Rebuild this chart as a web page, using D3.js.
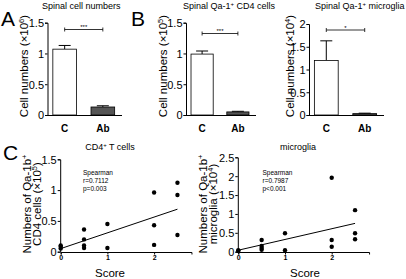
<!DOCTYPE html>
<html>
<head>
<meta charset="utf-8">
<script src="https://cdn.jsdelivr.net/npm/d3@7"></script>
<style>
  body { margin: 0; background: #fff; }
  svg { display: block; font-family: 'Liberation Sans', Arial, sans-serif; }
</style>
</head>
<body>
<div id="chart"></div>
<script>
// bar data (C = control, Ab = antibody)
const barCategories = [ 'C', 'Ab' ];
const cellMeans = [ 1.07, 0.13 ];
const cellErrs = [ 0.06, 0.02 ];
const cd4Means = [ 0.99, 0.05 ];
const cd4Errs = [ 0.05, 0.01 ];
const mgMeans = [ 1.2, 0.03 ];
const mgErrs = [ 0.43, 0.01 ];

// scatter data: score vs count
const cd4Score = [ 0, 0, 0, 0.5, 0.5, 0.5, 0.5, 1, 1, 2, 2, 2, 2.5, 2.5, 2.5 ];
const cd4Count = [ 0.05, 0.08, 0.1, 0.36, 0.2, 0.1, 0.06, 0.45, 0.06, 0.96, 0.43, 0.11, 1.12, 0.92, 0.27 ];
const mgScore = [ 0, 0, 0.5, 0.5, 0.5, 0.5, 1, 1, 2, 2, 2, 2.5, 2.5, 2.5 ];
const mgCount = [ 0.04, 0.02, 0.31, 0.15, 0.1, 0.05, 0.49, 0.04, 1.96, 0.31, 0.13, 1.1, 0.49, 0.33 ];
const fitX = [ 0, 2.5 ];
const cd4Fit = [ 0.05, 0.69 ];
const mgFit = [ 0.04, 0.75 ];

const scoreTicks = [ 0, 1, 2 ];

const svg = d3.select( '#chart' ).append( 'svg' )
  .attr( 'width', 406 )
  .attr( 'height', 279 );

const tickFont = 'font-size:11px;';
const labelFont = 'font-size:11.5px;';

function yAxis( g, y, ticks ) {
  g.call( d3.axisLeft( y ).tickValues( ticks ).tickSize( 2.5 ).tickPadding( 1 )
    .tickFormat( d3.format( '~g' ) ) );
  g.attr( 'font-family', null ).attr( 'font-size', null );
  g.selectAll( 'text' ).attr( 'style', tickFont ).attr( 'dy', '0.35em' );
}

// rotated axis title with a superscript part
function rotLabel( g, x, y, parts ) {
  const t = g.append( 'text' ).attr( 'transform', 'translate(' + x + ',' + y + ') rotate(-90)' )
    .attr( 'text-anchor', 'middle' ).attr( 'style', labelFont );
  parts.forEach( function( p ) {
    t.append( 'tspan' ).attr( 'dy', p.sup ? -4 : ( p.down ? 4 : 0 ) )
      .attr( 'style', p.sup ? 'font-size:7.5px;' : null ).text( p.t );
  });
}

function titleText( g, x, y, anchor, parts ) {
  const t = g.append( 'text' ).attr( 'x', x ).attr( 'y', y )
    .attr( 'text-anchor', anchor ).attr( 'style', 'font-size:9px;' );
  parts.forEach( function( p ) {
    t.append( 'tspan' ).attr( 'dy', p.sup ? -3 : ( p.down ? 3 : 0 ) )
      .attr( 'style', p.sup ? 'font-size:6px;' : null ).text( p.t );
  });
}

function barPanel( opt ) {
  const y = d3.scaleLinear().domain( [ 0, opt.ymax ] ).range( [ 115, opt.ytop ] );
  const x = d3.scaleBand().domain( barCategories ).range( [ opt.x0, opt.x1 ] )
    .paddingInner( 0.38 ).paddingOuter( 0.14 );
  const g = svg.append( 'g' );

  // error bars first, bars drawn on top
  barCategories.forEach( function( c, i ) {
    const cx = x( c ) + x.bandwidth() / 2;
    const top = y( opt.means[ i ] + opt.errs[ i ] );
    g.append( 'line' ).attr( 'x1', cx ).attr( 'x2', cx )
      .attr( 'y1', y( opt.means[ i ] ) ).attr( 'y2', top ).attr( 'stroke', '#000' );
    g.append( 'line' ).attr( 'x1', cx - 6 ).attr( 'x2', cx + 6 )
      .attr( 'y1', top ).attr( 'y2', top ).attr( 'stroke', '#000' );
  });

  g.selectAll( 'rect.bar' ).data( barCategories ).enter().append( 'rect' )
    .attr( 'x', function( d ) { return x( d ); } )
    .attr( 'y', function( d, i ) { return y( opt.means[ i ] ); } )
    .attr( 'width', x.bandwidth() )
    .attr( 'height', function( d, i ) { return 115 - y( opt.means[ i ] ); } )
    .attr( 'fill', function( d, i ) { return i == 0 ? '#fff' : '#555'; } )
    .attr( 'stroke', '#000' ).attr( 'stroke-width', 0.8 );

  // axes
  g.append( 'line' ).attr( 'x1', opt.x0 ).attr( 'x2', opt.x1 + 2 )
    .attr( 'y1', 115.5 ).attr( 'y2', 115.5 ).attr( 'stroke', '#000' );
  g.append( 'g' ).attr( 'transform', 'translate(' + opt.x0 + ',0)' )
    .call( function( a ) { yAxis( a, y, opt.ticks ); } );

  g.selectAll( 'text.cat' ).data( barCategories ).enter().append( 'text' )
    .attr( 'x', function( d ) { return x( d ) + x.bandwidth() / 2; } )
    .attr( 'y', 132 )
    .attr( 'text-anchor', 'middle' )
    .attr( 'style', 'font-size:10px; font-weight:bold;' )
    .text( function( d ) { return d; } );

  // significance bracket
  const bx1 = x( 'C' ) + x.bandwidth() / 2, bx2 = x( 'Ab' ) + x.bandwidth() / 2;
  g.append( 'path' )
    .attr( 'd', 'M' + bx1 + ',' + ( opt.by - 2 ) + 'V' + ( opt.by + 2 ) + 'M' + bx1 + ',' + opt.by +
      'H' + bx2 + 'M' + bx2 + ',' + ( opt.by - 2 ) + 'V' + ( opt.by + 2 ) )
    .attr( 'stroke', '#000' ).attr( 'fill', 'none' ).attr( 'stroke-width', 0.8 );
  g.append( 'text' ).attr( 'x', ( bx1 + bx2 ) / 2 ).attr( 'y', opt.by - 0.5 )
    .attr( 'text-anchor', 'middle' ).attr( 'style', 'font-size:6px;' ).text( opt.stars );

  titleText( g, opt.tx, 9, 'start', opt.title );

  rotLabel( g, opt.lx, 66, [ { t: 'Cell numbers (\u00d710' }, { t: opt.exp, sup: true }, { t: ')', down: true } ] );
}

function scatterPanel( opt ) {
  const x = d3.scaleLinear().domain( [ 0, 2.8 ] ).range( [ opt.x0, opt.x0 + 2.8 * 46.7 ] );
  const y = d3.scaleLinear().domain( [ 0, opt.ymax ] ).range( [ 251.7, opt.ytop ] );
  const g = svg.append( 'g' );

  const xa = g.append( 'g' ).attr( 'transform', 'translate(0,252)' )
    .call( d3.axisBottom( x ).tickValues( scoreTicks ).tickSize( 2.5 ).tickPadding( 1 )
      .tickFormat( d3.format( 'd' ) ) );
  xa.attr( 'font-family', null ).attr( 'font-size', null );
  xa.selectAll( 'text' ).attr( 'style', 'font-size:7px; font-weight:bold;' );

  g.append( 'g' ).attr( 'transform', 'translate(' + ( opt.x0 - 0.5 ) + ',0)' )
    .call( function( a ) { yAxis( a, y, opt.ticks ); } );

  g.selectAll( 'circle' ).data( opt.xs ).enter().append( 'circle' )
    .attr( 'cx', function( d ) { return x( d ); } )
    .attr( 'cy', function( d, i ) { return y( opt.ys[ i ] ); } )
    .attr( 'r', 2.2 ).attr( 'fill', '#000' );

  g.append( 'line' )
    .attr( 'x1', x( fitX[ 0 ] ) ).attr( 'y1', y( opt.fit[ 0 ] ) )
    .attr( 'x2', x( fitX[ 1 ] ) ).attr( 'y2', y( opt.fit[ 1 ] ) )
    .attr( 'stroke', '#000' ).attr( 'stroke-width', 1 );

  const st = g.append( 'text' ).attr( 'style', 'font-size:6.5px;' );
  [ 'Spearman', opt.r, opt.p ].forEach( function( t, i ) {
    st.append( 'tspan' ).attr( 'x', opt.sx ).attr( 'y', 175 + i * 8 ).text( t );
  });

  titleText( g, opt.tcx, 150, 'middle', opt.title );

  g.append( 'text' ).attr( 'x', opt.scx ).attr( 'y', 277 )
    .attr( 'text-anchor', 'middle' ).attr( 'style', labelFont ).text( 'Score' );

  rotLabel( g, opt.lx1, 204, [ { t: 'Numbers of Qa-1b' }, { t: '+', sup: true } ] );
  rotLabel( g, opt.lx2, 204, [ { t: opt.line2 + ' (\u00d710' }, { t: opt.exp, sup: true }, { t: ')', down: true } ] );
}

barPanel( { x0: 47.5, x1: 120, ymax: 1.5, ytop: 22.7, ticks: [ 0, 0.5, 1, 1.5 ],
  means: cellMeans, errs: cellErrs, by: 29.5, stars: '***', tx: 42,
  title: [ { t: 'Spinal cell numbers' } ], lx: 28, exp: '6' } );
barPanel( { x0: 186, x1: 254, ymax: 1.5, ytop: 22.7, ticks: [ 0, 0.5, 1, 1.5 ],
  means: cd4Means, errs: cd4Errs, by: 33.5, stars: '***', tx: 183,
  title: [ { t: 'Spinal Qa-1' }, { t: '+', sup: true }, { t: ' CD4 cells', down: true } ], lx: 167, exp: '5' } );
barPanel( { x0: 309, x1: 382, ymax: 2, ytop: 24, ticks: [ 0, 0.5, 1, 1.5, 2 ],
  means: mgMeans, errs: mgErrs, by: 30, stars: '*', tx: 315,
  title: [ { t: 'Spinal Qa-1' }, { t: '+', sup: true }, { t: ' microglia', down: true } ], lx: 294, exp: '4' } );

scatterPanel( { x0: 60.7, ymax: 1.5, ytop: 159.3, ticks: [ 0, 0.5, 1, 1.5 ],
  xs: cd4Score, ys: cd4Count, fit: cd4Fit, sx: 83, r: 'r=0.7112', p: 'p=0.003',
  tcx: 110, scx: 110, lx1: 30.5, lx2: 41, line2: 'CD4 cells', exp: '5',
  title: [ { t: 'CD4' }, { t: '+', sup: true }, { t: ' T cells', down: true } ] } );
scatterPanel( { x0: 238.3, ymax: 2.5, ytop: 157.3, ticks: [ 0, 0.5, 1, 1.5, 2, 2.5 ],
  xs: mgScore, ys: mgCount, fit: mgFit, sx: 262.5, r: 'r=0.7987', p: 'p<0.001',
  tcx: 298, scx: 305, lx1: 206.5, lx2: 217, line2: 'microglia', exp: '4',
  title: [ { t: 'microglia' } ] } );

// panel letters
[ [ 'A', 1, 26 ], [ 'B', 131, 26 ], [ 'C', 3, 160 ] ].forEach( function( l ) {
  svg.append( 'text' ).attr( 'x', l[ 1 ] ).attr( 'y', l[ 2 ] )
    .attr( 'style', 'font-size:21px;' ).text( l[ 0 ] );
});
</script>
</body>
</html>
